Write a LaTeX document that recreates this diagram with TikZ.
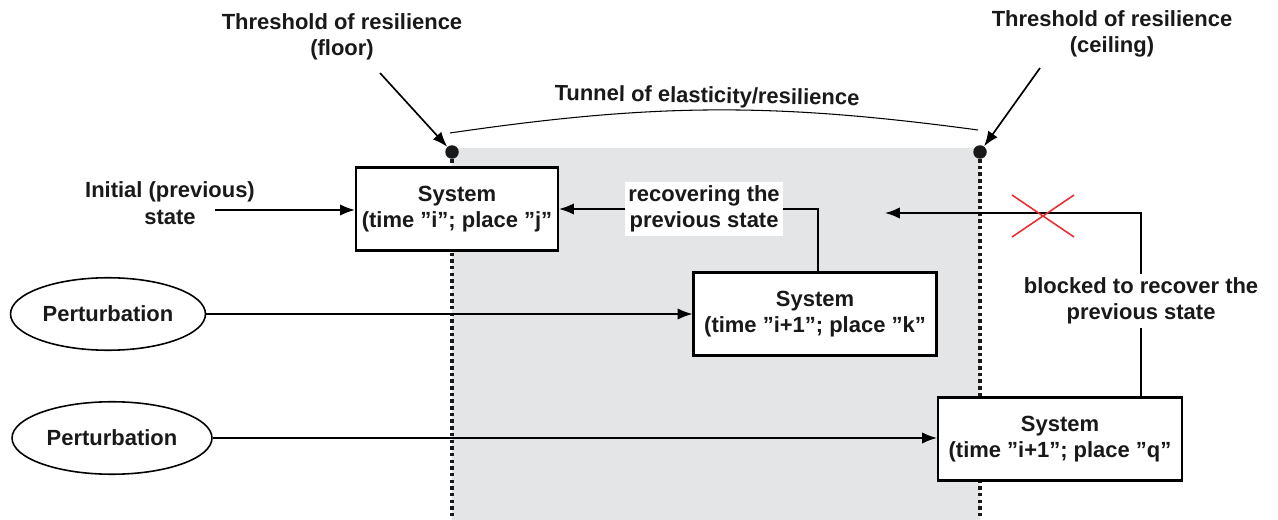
\documentclass[tikz,border=0pt]{standalone}
\usepackage{fontspec}
\setmainfont{Liberation Sans}
\usetikzlibrary{arrows.meta}
\usetikzlibrary{shapes.geometric}
\usetikzlibrary{positioning}
\definecolor{tunnelgray}{RGB}{228,229,231}
\definecolor{crossred}{RGB}{236,45,50}

\begin{document}
\begin{tikzpicture}
        [ x=0.02cm, y=-0.02cm
        , every node/.style={font=\fontsize{12.5}{15}\selectfont\bfseries, align=center, text=black!90}
        , system/.style={draw, line width=1.2pt, fill=white, minimum height=1.66cm, inner sep=1pt}
        , perturb/.style={draw, ellipse, line width=0.9pt, minimum height=1.45cm, inner sep=0pt}
        , flow/.style={line width=0.95pt, -{Latex[length=8.5pt,width=6.5pt]}}
        , tunnelwall/.style={line width=2.3pt, dash pattern=on 2pt off 1.8pt}
        , wallpoint/.style={circle, fill=black!90, inner sep=0pt, minimum size=0.27cm}
        , whitelabel/.style={fill=white, inner sep=2pt}
        , redx/.style={draw=crossred, line width=0.9pt}
        ]
        \useasboundingbox (0,0) rectangle (1278,520);

        % tunnel
        \fill[tunnelgray] (452,148) rectangle (980,520);
        \node[wallpoint] (floordot) at (452,152) {};
        \node[wallpoint] (ceildot) at (980,152) {};
        \coordinate (floorbottom) at (452,520);
        \coordinate (ceilbottom) at (980,520);
        \draw[tunnelwall, black!90] (floordot) -- (floorbottom);
        \draw[tunnelwall, black!90] (ceildot) -- (ceilbottom);

        % thresholds
        \node (floorlbl) at (342,37) {Threshold of resilience\\(floor)};
        \node (ceillbl) at (1112,34) {Threshold of resilience\\(ceiling)};
        \coordinate (floorfrom) at (380,73);
        \coordinate (ceilfrom) at (1040,68);
        \draw[flow] (floorfrom) -- (floordot);
        \draw[flow] (ceilfrom) -- (ceildot);
        \coordinate (arcleft) at (450,133);
        \coordinate (arcright) at (978,130);
        \draw[line width=0.6pt] (arcleft) to[bend left=8] (arcright);
        \node[rotate=-1] (tunnellbl) at (707,97) {Tunnel of elasticity/resilience};

        % systems
        \node[system, minimum width=4.04cm] (sysj) at (457,209) {System\\(time ”i”; place ”j”};
        \node[system, minimum width=4.86cm] (sysk) at (815,314) {System\\(time ”i+1”; place ”k”};
        \node[system, minimum width=4.88cm] (sysq) at (1060,439) {System\\(time ”i+1”; place ”q”};

        % inputs
        \node (initial) at (170,203) {Initial (previous)\\state};
        \coordinate (initfrom) at (215,210);
        \draw[flow] (initfrom) -- (initfrom -| sysj.west);
        \node[perturb, minimum width=3.9cm] (pertk) at (108,314) {Perturbation};
        \node[perturb, minimum width=4cm] (pertq) at (112,438) {Perturbation};
        \draw[flow] (pertk.east) -- (pertk.east -| sysk.west);
        \draw[flow] (pertq.east) -- (pertq.east -| sysq.west);

        % way back
        \draw[flow] ([xshift=0.06cm]sysk.north) |- node[whitelabel, pos=0.72] (recover) {recovering the\\previous state} (sysj.east);
        \coordinate (blockedend) at (885,213);
        \draw[flow] ([xshift=-0.84cm]sysq.north east) |- node[whitelabel, pos=0.26] (blocked) {blocked to recover the\\previous state} (blockedend);
        \coordinate (cross) at (1043,216);
        \draw[redx] ([shift={(-31,-21)}]cross) -- ([shift={(31,21)}]cross);
        \draw[redx] ([shift={(-31,21)}]cross) -- ([shift={(31,-21)}]cross);
\end{tikzpicture}
\end{document}
